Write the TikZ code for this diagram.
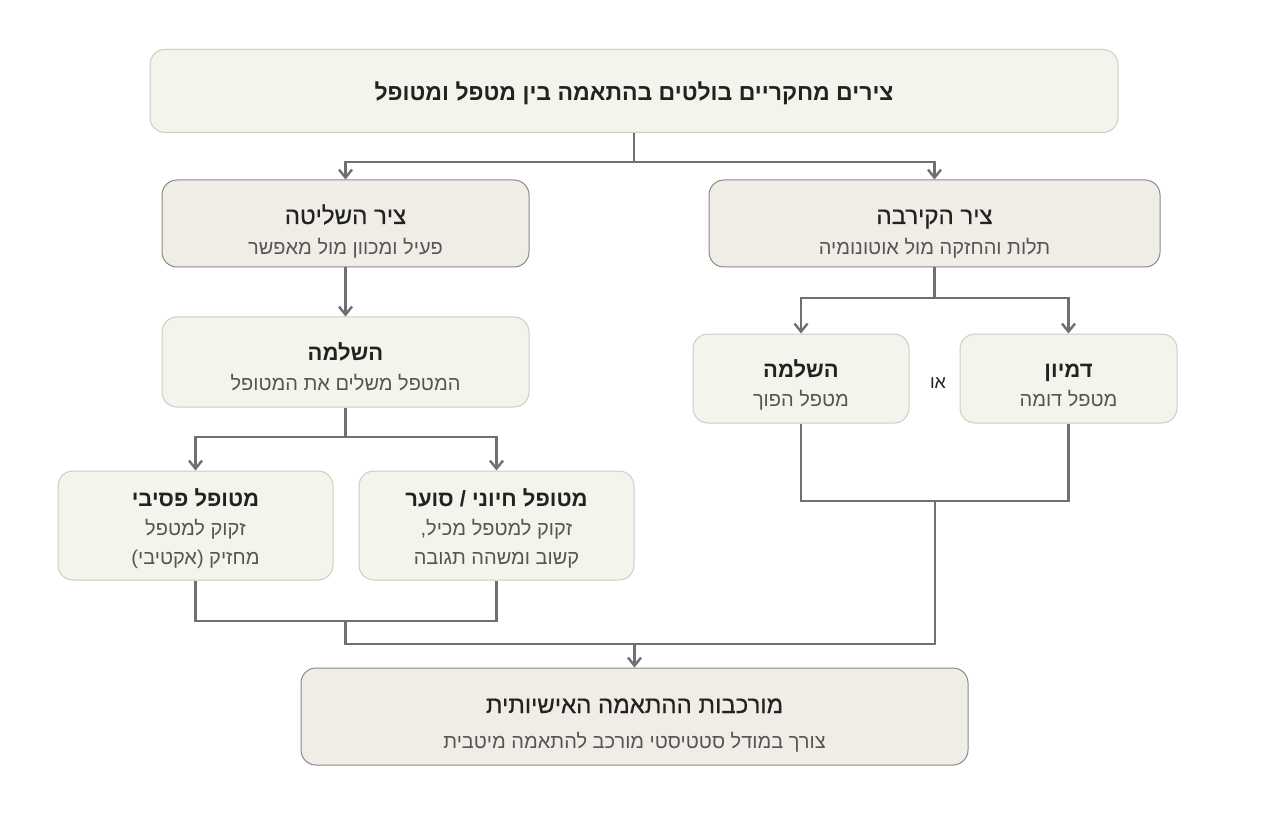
\documentclass[tikz,border=0pt]{standalone}
\usepackage{fontspec}
\usetikzlibrary{arrows.meta}
\TeXXeTstate=1
\newfontfamily\he[Script=Hebrew]{Liberation Sans}
\newfontfamily\hemed[Script=Hebrew,FakeBold=0.5]{Liberation Sans}
\definecolor{linec}{HTML}{707070}
\definecolor{fillA}{HTML}{EFEDE6}
\definecolor{fillB}{HTML}{F4F3EC}
\definecolor{edgeA}{HTML}{8A8A84}
\definecolor{edgeB}{HTML}{CFCDC4}
\definecolor{titlec}{HTML}{222222}
\definecolor{subc}{HTML}{555555}
\newcommand{\RL}[1]{\beginR #1\endR}
\newcommand{\tops}[1]{\rule{0pt}{#1pt}}
\newcommand{\bots}{\rule[-7pt]{0pt}{0pt}}
\newcommand{\ttl}[1]{{\color{titlec}\hemed\fontsize{24}{31}\selectfont\RL{#1}}}
\newcommand{\bttl}[1]{{\color{titlec}\fontsize{22}{30}\selectfont\bfseries\RL{#1}}}
\newcommand{\sub}[1]{{\color{subc}\fontsize{20}{30}\selectfont\RL{#1}}}
\tikzset{
  boxA/.style={draw=edgeA, fill=fillA, line width=1pt, rounded corners=15pt, align=center, inner sep=0pt, font=\he\fontsize{20}{31}\selectfont},
  boxB/.style={draw=edgeB, fill=fillB, line width=1pt, rounded corners=15pt, align=center, inner sep=0pt, font=\he\fontsize{20}{30}\selectfont},
  conn/.style={draw=linec, line width=2.4pt},
  arr/.style={conn, -{Straight Barb[length=8pt,width=13pt]}},
}
\begin{document}
\begin{tikzpicture}[x=1pt,y=-1pt]
\useasboundingbox[fill=white] (0,0) rectangle (1269,818);
% boxes
\node[boxB, minimum width=968pt, minimum height=83pt] (top) at (634,91)
  {\tops{27}{\color{titlec}\fontsize{23}{26}\selectfont\bfseries\RL{צירים מחקריים בולטים בהתאמה בין מטפל ומטופל}}\bots};
\node[boxA, minimum width=367pt, minimum height=87pt] (ctrl) at (345.5,223.5)
  {\tops{39}\ttl{ציר השליטה}\\\sub{פעיל ומכוון מול מאפשר}\bots};
\node[boxA, minimum width=451pt, minimum height=87pt] (prox) at (934.5,223.5)
  {\tops{39}\ttl{ציר הקירבה}\\\sub{תלות והחזקה מול אוטונומיה}\bots};
\node[boxB, minimum width=367pt, minimum height=90pt] (comp) at (345.5,362)
  {\tops{33}\bttl{השלמה}\\\sub{המטפל משלים את המטופל}\bots};
\node[boxB, minimum width=275pt, minimum height=109pt, font=\he\fontsize{20}{29}\selectfont] (pas) at (195.5,525.5)
  {\tops{26}\bttl{מטופל פסיבי}\\\sub{זקוק למטפל}\\\sub{מחזיק (אקטיבי)}\bots};
\node[boxB, minimum width=275pt, minimum height=109pt, font=\he\fontsize{20}{29}\selectfont] (act) at (496.5,525.5)
  {\tops{26}\bttl{מטופל חיוני / סוער}\\\sub{זקוק למטפל מכיל,}\\\sub{קשוב ומשהה תגובה}\bots};
\node[boxB, minimum width=216pt, minimum height=89pt, font=\he\fontsize{20}{29}\selectfont] (inv) at (801,378.5)
  {\tops{33}\bttl{השלמה}\\\sub{מטפל הפוך}\bots};
\node[boxB, minimum width=217pt, minimum height=89pt, font=\he\fontsize{20}{29}\selectfont] (sim) at (1068.5,378.5)
  {\tops{33}\bttl{דמיון}\\\sub{מטפל דומה}\bots};
\node[font=\he, text=titlec, inner sep=0pt] (or) at (938,383) {\fontsize{18}{20}\selectfont\RL{או}};
\node[boxA, minimum width=667pt, minimum height=97pt, font=\he\fontsize{20}{35}\selectfont] (bot) at (634.5,716.5)
  {\tops{35}{\color{titlec}\hemed\fontsize{24}{35}\selectfont\RL{מורכבות ההתאמה האישיותית}}\\{\color{subc}\fontsize{20}{35}\selectfont\RL{צורך במודל סטטיסטי מורכב להתאמה מיטבית}}\bots};
% connectors
\coordinate (j1) at (634,162);
\draw[conn] (top.south) -- (j1);
\draw[arr] (j1) -| (ctrl.north);
\draw[arr] (j1) -| (prox.north);
\draw[arr] (ctrl.south) -- (comp.north);
\coordinate (j2) at (345.5,437);
\draw[conn] (comp.south) -- (j2);
\draw[arr] (j2) -| (pas.north);
\draw[arr] (j2) -| (act.north);
\coordinate (j3) at (934.5,298);
\draw[conn] (prox.south) -- (j3);
\draw[arr] (j3) -| (inv.north);
\draw[arr] (j3) -| (sim.north);
% merges
\coordinate (m1) at (345.5,621);
\coordinate (m2) at (935,501);
\coordinate (m3) at (634.5,644);
\draw[conn] (pas.south) |- (m1) -| (act.south);
\draw[conn] (inv.south) |- (m2) -| (sim.south);
\draw[conn] (m1) -- (m1 |- m3) -- (m2 |- m3) -- (m2);
\draw[arr] (m3) -- (bot.north);
\end{tikzpicture}
\end{document}
